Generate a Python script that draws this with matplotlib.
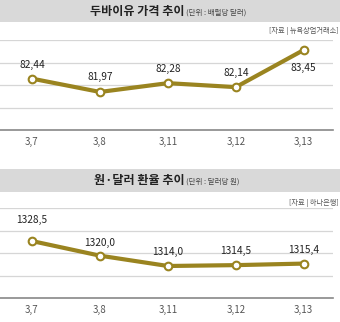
import matplotlib
matplotlib.use('Agg')
import matplotlib.pyplot as plt
from matplotlib.patches import Rectangle

plt.rcParams['font.family'] = ['Noto Sans CJK KR', 'DejaVu Sans']

# 데이터
dates = ['3,7', '3,8', '3,11', '3,12', '3,13']
oil = [82.44, 81.97, 82.28, 82.14, 83.45]
fx = [1328.5, 1320.0, 1314.0, 1314.5, 1315.4]
oil_offsets = [10, 11, 10, 10, -13]
fx_offsets = [15, 9, 10, 10, 10]

W, H = 340, 322
LINE = '#9a8420'
GRID = '#d6d6d6'

fig = plt.figure(figsize=(W / 100, H / 100), dpi=100)

def px(x0, y0, w, h):
    return [x0 / W, 1 - (y0 + h) / H, w / W, h / H]

def banner(y0, y1, title, unit, source, ysrc):
    fig.add_artist(Rectangle((0, 1 - y1 / H), 1, (y1 - y0) / H,
                             transform=fig.transFigure, color='#d9d9d9', lw=0))
    ymid = 1 - (y0 + y1) / 2 / H
    fig.text(0.543, ymid, title, ha='right', va='center', fontsize=8.7,
             fontweight='bold', color='#222222')
    fig.text(0.548, ymid - 0.004, unit, ha='left', va='center', fontsize=5.4,
             color='#444444')
    fig.text(0.995, 1 - ysrc / H, source, ha='right', va='center', fontsize=5.2,
             color='#555555')

def panel(top, bottom, vals, ylim, labels, offsets):
    ax = fig.add_axes(px(0, top, 333, bottom - top))
    x = range(len(vals))
    ax.set_xlim(-0.47, 4.43)
    ax.set_ylim(*ylim)
    for f in (0.25, 0.5, 0.75, 1.0):
        ax.axhline(ylim[0] + f * (ylim[1] - ylim[0]), color=GRID, lw=0.9, zorder=0)
    ax.plot(x, vals, color=LINE, lw=3, marker='o', ms=5.5, mfc='white',
            mec=LINE, mew=1.5, zorder=3)
    for xi, v, lab, off in zip(x, vals, labels, offsets):
        ax.annotate(lab, (xi, v), xytext=(0, off), textcoords='offset points',
                    ha='center', va='center', fontsize=7.3, color='#222222')
    for s in ('top', 'left', 'right'):
        ax.spines[s].set_visible(False)
    ax.spines['bottom'].set_color('#888888')
    ax.spines['bottom'].set_linewidth(1.2)
    ax.set_yticks([])
    ax.set_xticks(list(x))
    ax.set_xticklabels(dates, fontsize=7, color='#555555')
    ax.tick_params(axis='x', length=0, pad=5)
    ax.patch.set_alpha(0)
    return ax

banner(0, 22, '두바이유 가격 추이', '(단위 : 배럴당 달러)', '[자료 | 뉴욕상업거래소]', 31)
panel(40, 130, oil, (80.63, 83.80), [f'{v:.2f}'.replace('.', ',') for v in oil], oil_offsets)

banner(169, 192, '원·달러 환율 추이', '(단위 : 달러당 원)', '[자료 | 하나은행]', 203)
panel(208, 298, fx, (1295.4, 1347.7), [f'{v:.1f}'.replace('.', ',') for v in fx], fx_offsets)

fig.savefig('out.png', dpi=100)
